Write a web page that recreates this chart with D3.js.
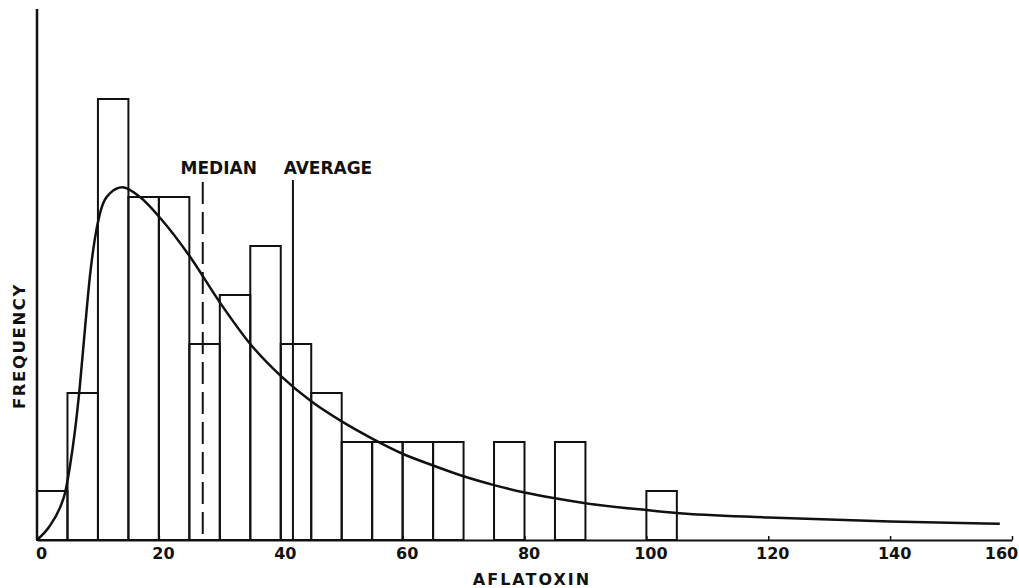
<!DOCTYPE html>
<html>
<head>
<meta charset="utf-8">
<script src="https://cdn.jsdelivr.net/npm/d3@7"></script>
<style>
  body { margin: 0; background: #fff; }
  text { font-family: "DejaVu Sans", sans-serif; font-weight: bold; fill: #111; }
</style>
</head>
<body>
<div id="chart"></div>
<script>
// Histogram data (bin start, 5 units wide)
var binStarts = [0, 5, 10, 15, 20, 25, 30, 35, 40, 45, 50, 55, 60, 65, 75, 85, 100];
var binCounts = [1, 3, 9, 7, 7, 4, 5, 6, 4, 3, 2, 2, 2, 2, 2, 2, 1];
var binWidth = 5;

// Fitted curve
var curveX = [0, 2, 3.8, 4.6, 5.4, 6.2, 7.0, 7.9, 8.7, 9.5, 10.3, 12, 14, 16.9, 20.5, 25,
  30, 35, 40, 45, 50, 55, 60, 65, 70, 75, 80, 85, 90, 100, 105, 120, 140, 158];
var curveY = [0, 0.27, 0.67, 0.96, 1.5, 2.2, 3.1, 4.35, 5.4, 6.15, 6.65, 7.08, 7.2, 7.0, 6.53, 5.8,
  4.85, 4.0, 3.35, 2.83, 2.42, 2.07, 1.76, 1.52, 1.30, 1.12, 0.97, 0.85, 0.75, 0.61, 0.55, 0.46, 0.38, 0.33];

var xTicks = [0, 20, 40, 60, 80, 100, 120, 140, 160];
var medianValue = 27.2;
var averageValue = 42;

var svgWidth = 1019;
var svgHeight = 588;

var svg = d3.select("#chart")
  .append("svg")
  .attr("width", svgWidth)
  .attr("height", svgHeight); //end svg def

// scales
var x = d3.scaleLinear().domain([0, 160]).range([37, 1012]);
var y = d3.scaleLinear().domain([0, 1]).range([540, 491]);

// bars
svg.append("g")
  .selectAll("rect")
  .data(binStarts)
  .enter()
  .append("rect")
  .attr("x", d => x(d))
  .attr("y", (d, i) => y(binCounts[i]))
  .attr("width", d => x(d + binWidth) - x(d))
  .attr("height", (d, i) => y(0) - y(binCounts[i]))
  .attr("fill", "none")
  .attr("stroke", "#111")
  .attr("stroke-width", 2);

// fitted curve
var line = d3.line()
  .x(d => x(d[0]))
  .y(d => y(d[1]))
  .curve(d3.curveMonotoneX);

svg.append("path")
  .datum(curveX.map((v, i) => [v, curveY[i]]))
  .attr("d", line)
  .attr("fill", "none")
  .attr("stroke", "#111")
  .attr("stroke-width", 2.5);

// median and average markers
svg.append("line")
  .attr("x1", x(medianValue)).attr("x2", x(medianValue))
  .attr("y1", 182).attr("y2", y(0))
  .attr("stroke", "#111")
  .attr("stroke-width", 2)
  .attr("stroke-dasharray", "22,8");

svg.append("line")
  .attr("x1", x(averageValue)).attr("x2", x(averageValue))
  .attr("y1", 180).attr("y2", y(0))
  .attr("stroke", "#111")
  .attr("stroke-width", 2);

svg.append("text")
  .attr("x", x(medianValue) + 16)
  .attr("y", 174)
  .attr("text-anchor", "middle")
  .style("font-size", "17px")
  .text("MEDIAN");

svg.append("text")
  .attr("x", x(averageValue) + 35)
  .attr("y", 174)
  .attr("text-anchor", "middle")
  .style("font-size", "17px")
  .text("AVERAGE");

// x axis
var bottomAxis = d3.axisBottom(x)
  .tickValues(xTicks)
  .tickSize(0)
  .tickPadding(8)
  .tickFormat(d3.format("d"));

var xAxis = svg.append("g")
  .attr("transform", `translate(0, ${y(0)})`)
  .call(bottomAxis);

xAxis.select(".domain")
  .attr("stroke", "#111")
  .attr("stroke-width", 2);

xAxis.selectAll(".tick text")
  .attr("dx", d => d === 160 ? -11 : 4)
  .style("font-family", "DejaVu Sans, sans-serif")
  .style("font-weight", "bold")
  .style("font-size", "16px")
  .style("fill", "#111");

// small up ticks
xAxis.selectAll(".tick")
  .append("line")
  .attr("y1", 0).attr("y2", -4)
  .attr("stroke", "#111")
  .attr("stroke-width", 1.5);

// y axis (no ticks)
svg.append("line")
  .attr("x1", x(0)).attr("x2", x(0))
  .attr("y1", 9).attr("y2", y(0))
  .attr("stroke", "#111")
  .attr("stroke-width", 2.5);

// axis titles
svg.append("text")
  .attr("x", 532)
  .attr("y", 585)
  .attr("text-anchor", "middle")
  .style("font-size", "16px")
  .style("letter-spacing", "2px")
  .text("AFLATOXIN");

svg.append("text")
  .attr("transform", "translate(25, 346) rotate(-90)")
  .attr("text-anchor", "middle")
  .style("font-size", "16.5px")
  .style("letter-spacing", "1.6px")
  .text("FREQUENCY");
</script>
</body>
</html>
